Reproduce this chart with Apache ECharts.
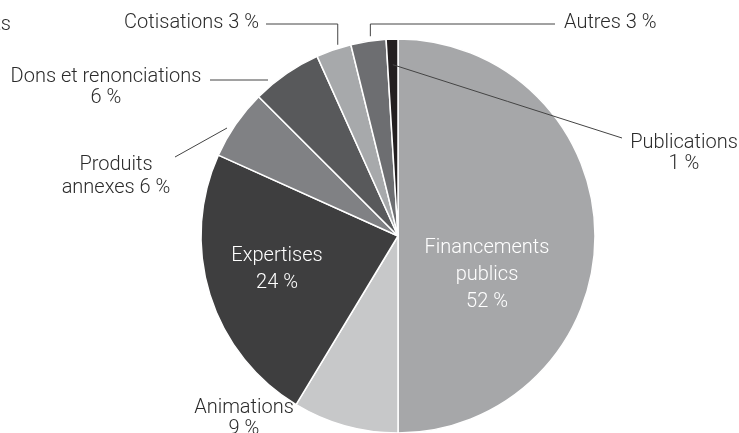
<!DOCTYPE html>
<html>
<head>
<meta charset="utf-8">
<script src="https://cdn.jsdelivr.net/npm/echarts@6/dist/echarts.min.js"></script>
<style>
  html, body { margin: 0; padding: 0; background: #fff; }
  #chart { width: 739px; height: 433px; }
</style>
</head>
<body>
<div id="chart"></div>
<script>
// Sources de financement (en %)
const categories = [
  'Financements publics', 'Animations', 'Expertises', 'Produits annexes',
  'Dons et renonciations', 'Cotisations', 'Autres', 'Publications'
];
const shares = [52, 9, 24, 6, 6, 3, 3, 1];
const labelTexts = [
  'Financements\npublics\n52 %', 'Animations\n9 %', 'Expertises\n24 %', 'Produits\nannexes 6 %',
  'Dons et renonciations\n6 %', 'Cotisations 3 %', 'Autres 3 %', 'Publications\n1 %'
];
const sliceColors = ['#a6a7a9', '#c7c8c9', '#3e3e3f', '#808184', '#58595b', '#a7a9ab', '#6d6e71', '#231f20'];

const CX = 398, CY = 236, R = 197;
const FONT = 'Roboto';
const TEXT = '#2b2b2b';

// Placement of each label: anchor, alignment and leader line
function layoutFor(name, p) {
  const p0 = p.labelLinePoints ? p.labelLinePoints[0] : [CX, CY];
  const dx = p0[0] - CX, dy = p0[1] - CY;
  switch (name) {
    case 'Financements publics':
      return { x: 487, y: 275, align: 'center', verticalAlign: 'middle' };
    case 'Expertises':
      return { x: 277, y: 269, align: 'center', verticalAlign: 'middle' };
    case 'Animations':
      return { x: 244, y: 418, align: 'center', verticalAlign: 'middle' };
    case 'Produits annexes':
      return { x: 116, y: 176, align: 'center', verticalAlign: 'middle',
               labelLinePoints: [[227, 128], [201, 142.5], [175, 157]] };
    case 'Dons et renonciations':
      return { x: 106, y: 87, align: 'center', verticalAlign: 'middle',
               labelLinePoints: [[268, 80], [239, 80], [210, 80]] };
    case 'Cotisations': {
      const x = p0[0] + 4;
      return { x: 259, y: 23, align: 'right', verticalAlign: 'middle',
               labelLinePoints: [[x, p0[1] - 5], [x, 24], [266, 24]] };
    }
    case 'Autres': {
      const x = p0[0] + 2;
      return { x: 564, y: 23, align: 'left', verticalAlign: 'middle',
               labelLinePoints: [[x, p0[1] - 5], [x, 24], [555, 24]] };
    }
    case 'Publications': {
      const s = [CX + dx * 0.87, CY + dy * 0.87], e = [622, 138];
      return { x: 684, y: 153, align: 'center', verticalAlign: 'middle',
               labelLinePoints: [s, [(s[0] + e[0]) / 2, (s[1] + e[1]) / 2], e] };
    }
  }
  return {};
}

const insideNames = ['Financements publics', 'Expertises'];

const baseSeries = {
  type: 'pie',
  center: [CX, CY],
  radius: [0, R],
  startAngle: 90,
  clockwise: true,
  avoidLabelOverlap: false,
  emphasis: { disabled: true }
};

const chart = echarts.init(document.getElementById('chart'), null, { renderer: 'canvas' });
chart.setOption({
  backgroundColor: '#ffffff',
  animation: false,
  graphic: [{
    type: 'text', x: 11, y: 25,
    style: { text: 'ts', font: '300 20px ' + FONT, fill: TEXT, textAlign: 'right', textVerticalAlign: 'middle' }
  }],
  series: [
    // slices
    Object.assign({}, baseSeries, {
      z: 2,
      itemStyle: { borderColor: '#ffffff', borderWidth: 1.5 },
      label: { show: false },
      labelLine: { show: false },
      data: categories.map((name, i) => ({ name, value: shares[i], itemStyle: { color: sliceColors[i] } }))
    }),
    // labels and leader lines, drawn above the slices
    Object.assign({}, baseSeries, {
      z: 3,
      silent: true,
      itemStyle: { color: 'rgba(0,0,0,0)', borderWidth: 0 },
      label: {
        show: true,
        position: 'outside',
        fontFamily: FONT,
        fontWeight: 300,
        fontSize: 20,
        lineHeight: 21,
        color: TEXT,
        formatter: p => labelTexts[p.dataIndex]
      },
      labelLine: {
        show: true,
        length: 10, length2: 10,
        lineStyle: { color: '#444444', width: 1 }
      },
      labelLayout: p => layoutFor(categories[p.dataIndex], p),
      data: categories.map((name, i) => {
        const item = { name, value: shares[i] };
        if (insideNames.includes(name)) {
          item.label = { position: 'inside', color: '#ffffff', lineHeight: 27 };
          item.labelLine = { show: false };
        }
        if (name === 'Animations') item.labelLine = { show: false };
        if (name === 'Produits annexes') item.label = { lineHeight: 23 };
        return item;
      })
    })
  ]
});
</script>
</body>
</html>
